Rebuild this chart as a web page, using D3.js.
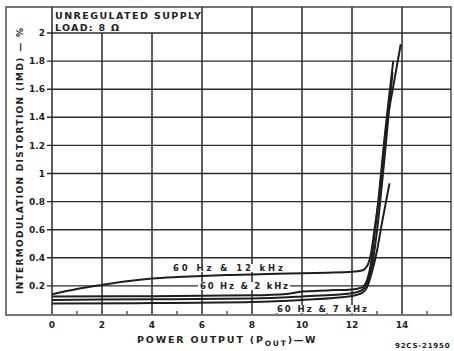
<!DOCTYPE html>
<html>
<head>
<meta charset="utf-8">
<script src="https://cdn.jsdelivr.net/npm/d3@7"></script>
<style>
  html, body { margin: 0; padding: 0; background: #fff; }
  svg { display: block; }
  text { font-family: "DejaVu Sans", sans-serif; font-weight: bold; fill: #222; }
</style>
</head>
<body>
<svg id="chart" width="454" height="351"></svg>
<script>
// tick values
var xTicks = [0, 2, 4, 6, 8, 10, 12, 14];
var xMinor = [1, 3, 5, 7, 9, 11, 13, 15];
var yTicks = [0.2, 0.4, 0.6, 0.8, 1, 1.2, 1.4, 1.6, 1.8, 2];

// curves: [power W, IMD %]
var imd12k = [[0, 0.14], [1, 0.178], [2, 0.207], [3, 0.233], [4, 0.252], [5, 0.263], [6, 0.271], [7, 0.277], [8, 0.282], [9, 0.286], [10, 0.29], [11, 0.294], [12, 0.3], [12.4, 0.31], [12.6, 0.34], [12.75, 0.42], [12.9, 0.6], [13.1, 0.86], [13.35, 1.3], [13.65, 1.62], [13.95, 1.92]];
var imd2k = [[0, 0.125], [4, 0.127], [8, 0.133], [9.4, 0.143], [10, 0.16], [11, 0.168], [12, 0.175], [12.4, 0.19], [12.6, 0.24], [12.75, 0.35], [12.9, 0.56], [13.05, 0.8], [13.3, 1.25], [13.65, 1.8]];
var imd7kA = [[0, 0.1], [4, 0.105], [8, 0.11], [10, 0.125], [12, 0.148], [12.4, 0.17], [12.6, 0.22], [12.8, 0.34], [12.95, 0.52], [13.1, 0.75], [13.35, 1.2], [13.62, 1.72]];
var imd7k = [[0, 0.075], [4, 0.078], [8, 0.085], [10, 0.1], [12, 0.128], [12.4, 0.15], [12.6, 0.19], [12.8, 0.3], [13.0, 0.45], [13.2, 0.65], [13.5, 0.93]];

var curveLabels = [
  { text: "60 Hz & 12 kHz", x: 7.04, y: 0.306, w: 110 },
  { text: "60 Hz & 2 kHz", x: 7.68, y: 0.178, w: 88 },
  { text: "60 Hz & 7 kHz", x: 10.8, y: 0.014, w: 90 }
];

var svg = d3.select("#chart"),
  frame = { left: 6, top: 7, right: 451, bottom: 315 };

var x = d3.scaleLinear().domain([0, 16]).range([52, 452]);
var y = d3.scaleLinear().domain([0, 2]).range([314, 33]);

var ink = "#2a2a2a";

// outer frame
svg.append("rect")
  .attr("x", frame.left).attr("y", frame.top)
  .attr("width", frame.right - frame.left).attr("height", frame.bottom - frame.top)
  .attr("fill", "#fff").attr("stroke", "#555").attr("stroke-width", 1.6);

// vertical grid (the ones under the title box stop at 2 %)
svg.append("g")
  .selectAll("line")
  .data(xTicks)
  .enter().append("line")
  .attr("x1", function (d) { return x(d); })
  .attr("x2", function (d) { return x(d); })
  .attr("y1", y(0))
  .attr("y2", function (d) { return (d > 0 && d < 6) ? y(2) : frame.top; })
  .attr("stroke", ink).attr("stroke-width", 1.5);

// horizontal grid
svg.append("g")
  .selectAll("line")
  .data(yTicks)
  .enter().append("line")
  .attr("x1", x(0) - 5)
  .attr("x2", frame.right)
  .attr("y1", function (d) { return y(d); })
  .attr("y2", function (d) { return y(d); })
  .attr("stroke", ink).attr("stroke-width", 1.4);

// minor ticks on bottom edge
svg.append("g")
  .selectAll("line")
  .data(xMinor)
  .enter().append("line")
  .attr("x1", function (d) { return x(d); })
  .attr("x2", function (d) { return x(d); })
  .attr("y1", y(0))
  .attr("y2", y(0) - 3)
  .attr("stroke", ink).attr("stroke-width", 1.2);

// y tick labels
svg.append("g")
  .attr("font-size", 9)
  .attr("text-anchor", "end")
  .selectAll("text")
  .data(yTicks)
  .enter().append("text")
  .attr("x", x(0) - 7)
  .attr("y", function (d) { return y(d); })
  .attr("dy", "0.35em")
  .text(function (d) { return d3.format("~g")(d); });

// x tick labels
svg.append("g")
  .attr("font-size", 9)
  .attr("text-anchor", "middle")
  .selectAll("text")
  .data(xTicks)
  .enter().append("text")
  .attr("x", function (d) { return x(d); })
  .attr("y", 328)
  .text(function (d) { return d; });

// curves
var line = d3.line()
  .x(function (d) { return x(d[0]); })
  .y(function (d) { return y(d[1]); })
  .curve(d3.curveMonotoneX);

svg.append("g")
  .selectAll("path")
  .data([imd12k, imd2k, imd7kA, imd7k])
  .enter().append("path")
  .attr("d", line)
  .attr("fill", "none")
  .attr("stroke", "#1e1e1e")
  .attr("stroke-width", 2);

// curve labels with white backing
var lab = svg.append("g")
  .selectAll("g")
  .data(curveLabels)
  .enter().append("g")
  .attr("transform", function (d) { return "translate(" + x(d.x) + "," + y(d.y) + ")"; });

lab.append("text")
  .attr("font-size", 8.5)
  .attr("text-anchor", "middle")
  .attr("textLength", function (d) { return d.w; })
  .attr("lengthAdjust", "spacing")
  .text(function (d) { return d.text; })
  .each(function () {
    var b = this.getBBox();
    d3.select(this.parentNode).insert("rect", "text")
      .attr("x", b.x - 2).attr("y", b.y + 1).attr("width", b.width + 4).attr("height", b.height - 2)
      .attr("fill", "#fff");
  });

// title box
svg.append("rect")
  .attr("x", x(0) + 1).attr("y", frame.top + 1)
  .attr("width", x(6) - x(0) - 2).attr("height", y(2) - frame.top - 2)
  .attr("fill", "#fff");

svg.append("text")
  .attr("x", 55).attr("y", 19)
  .attr("font-size", 9.5)
  .attr("textLength", 146).attr("lengthAdjust", "spacing")
  .text("UNREGULATED SUPPLY");

svg.append("text")
  .attr("x", 55).attr("y", 31)
  .attr("font-size", 9.5)
  .attr("textLength", 64).attr("lengthAdjust", "spacing")
  .text("LOAD: 8 Ω");

// y axis title
svg.append("text")
  .attr("transform", "translate(23,161) rotate(-90)")
  .attr("font-size", 9)
  .attr("text-anchor", "middle")
  .attr("textLength", 266).attr("lengthAdjust", "spacing")
  .text("INTERMODULATION DISTORTION (IMD) — %");

// x axis title
var xt = svg.append("text")
  .attr("x", 137).attr("y", 343)
  .attr("font-size", 9.5)
  .attr("letter-spacing", 1.8);
xt.append("tspan").text("POWER OUTPUT (P");
xt.append("tspan").attr("font-size", 7.5).attr("dy", 2.5).text("OUT");
xt.append("tspan").attr("dy", -2.5).text(")—W");

// figure code
svg.append("text")
  .attr("x", 395).attr("y", 348)
  .attr("font-size", 7)
  .attr("letter-spacing", 0.8)
  .text("92CS-21950");
</script>
</body>
</html>
